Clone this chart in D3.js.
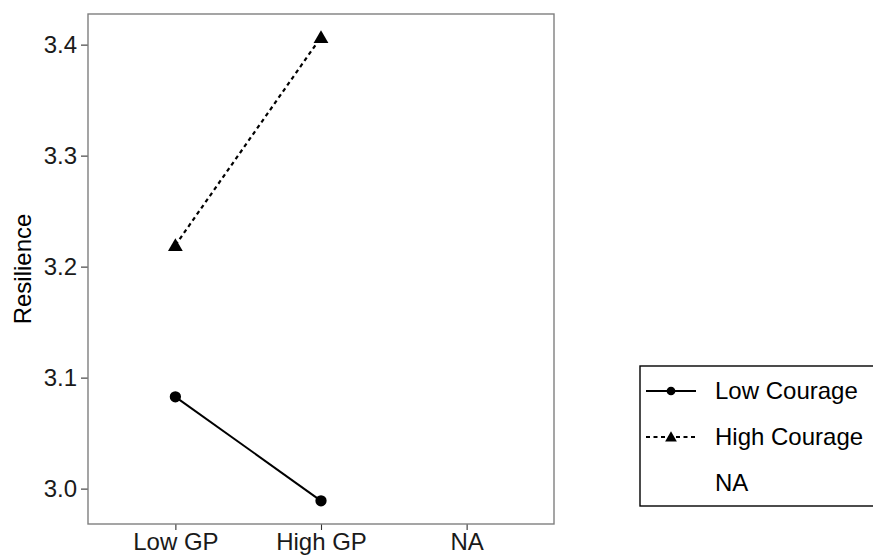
<!DOCTYPE html>
<html>
<head>
<meta charset="utf-8">
<script src="https://cdn.jsdelivr.net/npm/d3@7"></script>
<style>
  body { margin: 0; background: #fff; }
  text { font-family: "Liberation Sans", Arial, sans-serif; }
</style>
</head>
<body>
<div id="graf"></div>
<script>
// datos
const categorias = ['Low GP', 'High GP', 'NA']
const grupos = ['Low Courage', 'High Courage', 'NA']
const lowCourage = [3.0827, 2.9890]
const highCourage = [3.2193, 3.4067]
const ticksY = [3.0, 3.1, 3.2, 3.3, 3.4]

const ancho_total = 873, alto_total = 557
const panel = {left: 88, top: 14, right: 554, bottom: 524}
const fs = 24

const svg = d3.select('#graf').append('svg')
    .attr('width', ancho_total)
    .attr('height', alto_total)

// escalas (expansion tipo ggplot)
const x = d3.scalePoint().domain(categorias)
    .range([panel.left, panel.right]).padding(0.6)
const todos = lowCourage.concat(highCourage)
const ymin = d3.min(todos), ymax = d3.max(todos)
const pad = (ymax - ymin) * 0.05
const y = d3.scaleLinear().domain([ymin - pad, ymax + pad])
    .range([panel.bottom, panel.top])

// ejes
const ejeX = svg.append('g')
    .attr('transform', `translate(0, ${panel.bottom})`)
    .call(d3.axisBottom(x).tickSize(6).tickPadding(3))
const ejeY = svg.append('g')
    .attr('transform', `translate(${panel.left}, 0)`)
    .call(d3.axisLeft(y).tickValues(ticksY).tickFormat(d3.format('.1f')).tickSize(7).tickPadding(4))

;[ejeX, ejeY].forEach(e => {
  e.attr('font-size', fs).attr('font-family', '"Liberation Sans", Arial, sans-serif')
  e.select('.domain').remove()
  e.selectAll('line').attr('stroke', '#333').attr('stroke-width', 1.1)
  e.selectAll('text').attr('fill', '#1a1a1a')
})

// borde del panel
svg.append('rect')
    .attr('x', panel.left).attr('y', panel.top)
    .attr('width', panel.right - panel.left)
    .attr('height', panel.bottom - panel.top)
    .attr('fill', 'none').attr('stroke', '#7f7f7f').attr('stroke-width', 1.4)

// titulo eje Y
svg.append('text')
    .attr('transform', `translate(31, ${(panel.top + panel.bottom) / 2}) rotate(-90)`)
    .attr('text-anchor', 'middle')
    .attr('font-size', fs)
    .text('Resilience')

const linea = d3.line().x((d, i) => x(categorias[i])).y(d => y(d))

svg.append('path').datum(lowCourage)
    .attr('d', linea).attr('fill', 'none')
    .attr('stroke', '#000').attr('stroke-width', 2)
svg.append('path').datum(highCourage)
    .attr('d', linea).attr('fill', 'none')
    .attr('stroke', '#000').attr('stroke-width', 2.2)
    .attr('stroke-dasharray', '4,3.5')

const circulo = d3.symbol().type(d3.symbolCircle).size(100)
const triangulo = d3.symbol().type(d3.symbolTriangle).size(95)

svg.selectAll('.pLow').data(lowCourage).enter().append('path')
    .attr('d', circulo)
    .attr('transform', (d, i) => `translate(${x(categorias[i])}, ${y(d)})`)
svg.selectAll('.pHigh').data(highCourage).enter().append('path')
    .attr('d', triangulo)
    .attr('transform', (d, i) => `translate(${x(categorias[i])}, ${y(d) + 1.5})`)

// leyenda
const ley = svg.append('g').attr('transform', 'translate(640, 366)')
ley.append('rect')
    .attr('x', 0).attr('y', 0).attr('width', 240).attr('height', 140)
    .attr('fill', '#fff').attr('stroke', '#000').attr('stroke-width', 1.4)

grupos.forEach((g, i) => {
  const cy = 25 + i * 46
  if (i < 2) {
    ley.append('line')
        .attr('x1', 6).attr('x2', 56).attr('y1', cy).attr('y2', cy)
        .attr('stroke', '#000').attr('stroke-width', 2)
        .attr('stroke-dasharray', i == 1 ? '4,3.5' : null)
    ley.append('path')
        .attr('d', i == 0 ? circulo.size(60)() : triangulo.size(60)())
        .attr('transform', `translate(31, ${cy + (i == 1 ? 1 : 0)})`)
  }
  ley.append('text')
      .attr('x', 75).attr('y', cy + 8)
      .attr('font-size', fs)
      .text(g)
})
</script>
</body>
</html>
